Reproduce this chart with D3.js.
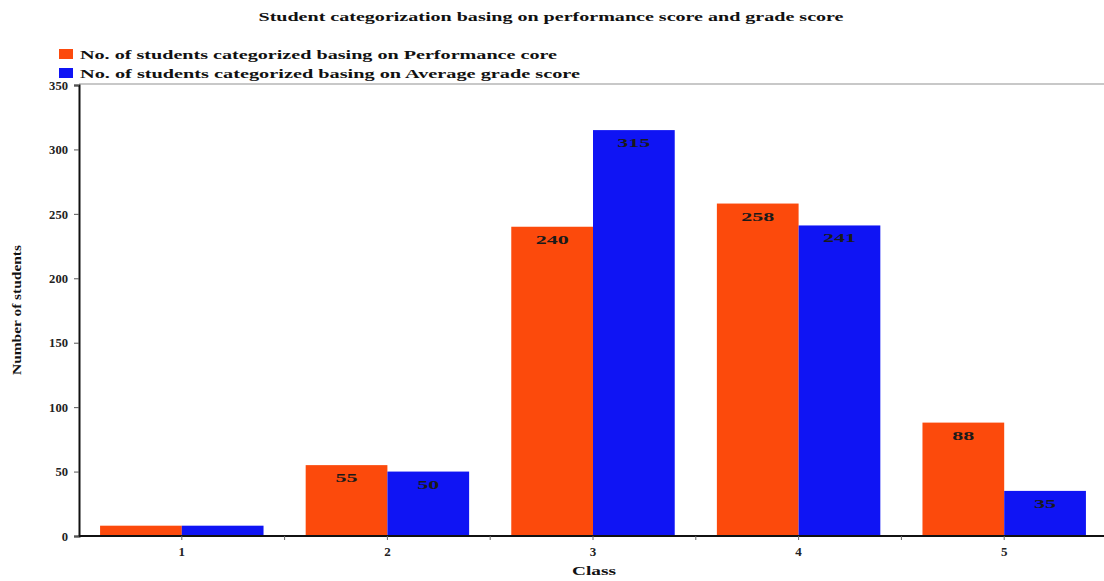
<!DOCTYPE html>
<html>
<head>
<meta charset="utf-8">
<script src="https://cdn.jsdelivr.net/npm/d3@7"></script>
<style>
  html, body { margin: 0; padding: 0; background: #fff; }
  svg { display: block; }
  text { font-family: "Liberation Serif", "DejaVu Serif", serif; font-weight: bold; }
</style>
</head>
<body>
<svg id="chart" width="1104" height="581"></svg>
<script>
// Data
const classes = ["1", "2", "3", "4", "5"];
const performanceCounts = [8, 55, 240, 258, 88];
const gradeCounts = [8, 50, 315, 241, 35];
const labelledClasses = ["2", "3", "4", "5"];
const yTicks = [0, 50, 100, 150, 200, 250, 300, 350];
const seriesNames = [
  "No. of students categorized basing on Performance core",
  "No. of students categorized basing on Average grade score"
];
const seriesColors = ["#FC4A0C", "#0F14F4"];

const svg = d3.select("#chart");
const W = 1104, H = 581;
const plot = { left: 79, right: 1107, top: 85, bottom: 536 };

const x = d3.scaleBand().domain(classes).range([plot.left, plot.right])
  .paddingInner(0.205).paddingOuter(0.1025);
const xs = d3.scaleBand().domain([0, 1]).range([0, x.bandwidth()]);
const y = d3.scaleLinear().domain([0, 350]).range([plot.bottom, plot.top]);

// Title
svg.append("text")
  .attr("x", 551).attr("y", 21)
  .attr("text-anchor", "middle")
  .attr("font-size", 12)
  .attr("textLength", 585).attr("lengthAdjust", "spacingAndGlyphs")
  .attr("fill", "#111")
  .text("Student categorization basing on performance score and grade score");

// Legend
const legendWidths = [477, 500];
seriesNames.forEach((name, i) => {
  const ly = 49 + i * 19;
  svg.append("rect").attr("x", 59).attr("y", ly).attr("width", 14).attr("height", 10)
    .attr("fill", seriesColors[i]);
  svg.append("text").attr("x", 80).attr("y", ly + 9.5)
    .attr("font-size", 13.5)
    .attr("textLength", legendWidths[i]).attr("lengthAdjust", "spacingAndGlyphs")
    .attr("fill", "#111")
    .text(name);
});

// Top border of plot area
svg.append("line")
  .attr("x1", plot.left).attr("x2", W).attr("y1", plot.top - 1).attr("y2", plot.top - 1)
  .attr("stroke", "#c8c8c8").attr("stroke-width", 2);

// Bars
const rows = classes.map((c, i) => ({ c, vals: [performanceCounts[i], gradeCounts[i]] }));
const groups = svg.append("g").selectAll("g").data(rows).join("g")
  .attr("transform", d => `translate(${x(d.c)},0)`);

groups.selectAll("rect").data(d => d.vals.map((v, k) => ({ v, k }))).join("rect")
  .attr("x", d => xs(d.k))
  .attr("width", xs.bandwidth())
  .attr("y", d => y(d.v))
  .attr("height", d => y(0) - y(d.v))
  .attr("fill", d => seriesColors[d.k]);

// Value labels inside the top of each bar
groups.filter(d => labelledClasses.includes(d.c))
  .selectAll("text.val").data(d => d.vals.map((v, k) => ({ v, k }))).join("text")
  .attr("class", "val")
  .attr("x", d => xs(d.k) + xs.bandwidth() / 2)
  .attr("y", d => y(d.v) + 17)
  .attr("text-anchor", "middle")
  .attr("font-size", 13)
  .attr("textLength", d => String(d.v).length * 11)
  .attr("lengthAdjust", "spacingAndGlyphs")
  .attr("fill", "#1a1a1a")
  .text(d => d.v);

// Y axis
const yAxis = d3.axisLeft(y).tickValues(yTicks).tickSize(5).tickPadding(6);
const gy = svg.append("g").attr("transform", `translate(${plot.left},0)`).call(yAxis);
gy.select(".domain").attr("stroke", "#111").attr("stroke-width", 2);
gy.selectAll(".tick line").attr("stroke", "#555");
gy.selectAll(".tick text")
  .attr("font-family", "Liberation Serif, serif").attr("font-weight", "bold")
  .attr("font-size", 13).attr("fill", "#222")
  .attr("textLength", d => String(d).length * 6.3)
  .attr("lengthAdjust", "spacingAndGlyphs");

// X axis
const xAxis = d3.axisBottom(x).tickSize(0).tickPadding(11);
const gx = svg.append("g").attr("transform", `translate(0,${plot.bottom})`).call(xAxis);
gx.select(".domain").remove();
gx.append("line").attr("x1", plot.left).attr("x2", W).attr("stroke", "#111").attr("stroke-width", 2);
gx.selectAll(".tick text")
  .attr("font-family", "Liberation Serif, serif").attr("font-weight", "bold")
  .attr("font-size", 13).attr("fill", "#222");
// small marks between classes
const bounds = classes.slice(1).map(c => x(c) - x.step() * x.paddingInner() / 2);
gx.selectAll("line.sep").data(bounds).join("line").attr("class", "sep")
  .attr("x1", d => d).attr("x2", d => d).attr("y1", 0).attr("y2", 4)
  .attr("stroke", "#666");
gx.selectAll("line.ctr").data(classes).join("line").attr("class", "ctr")
  .attr("x1", d => x(d) + x.bandwidth() / 2).attr("x2", d => x(d) + x.bandwidth() / 2)
  .attr("y1", 0).attr("y2", 4).attr("stroke", "#666");

// Axis titles
svg.append("text")
  .attr("x", 594).attr("y", 575)
  .attr("text-anchor", "middle").attr("font-size", 13).attr("fill", "#111")
  .attr("textLength", 44).attr("lengthAdjust", "spacingAndGlyphs")
  .text("Class");
svg.append("text")
  .attr("transform", "translate(21,310) rotate(-90)")
  .attr("text-anchor", "middle").attr("font-size", 13).attr("fill", "#111")
  .attr("textLength", 130).attr("lengthAdjust", "spacingAndGlyphs")
  .text("Number of students");
</script>
</body>
</html>
